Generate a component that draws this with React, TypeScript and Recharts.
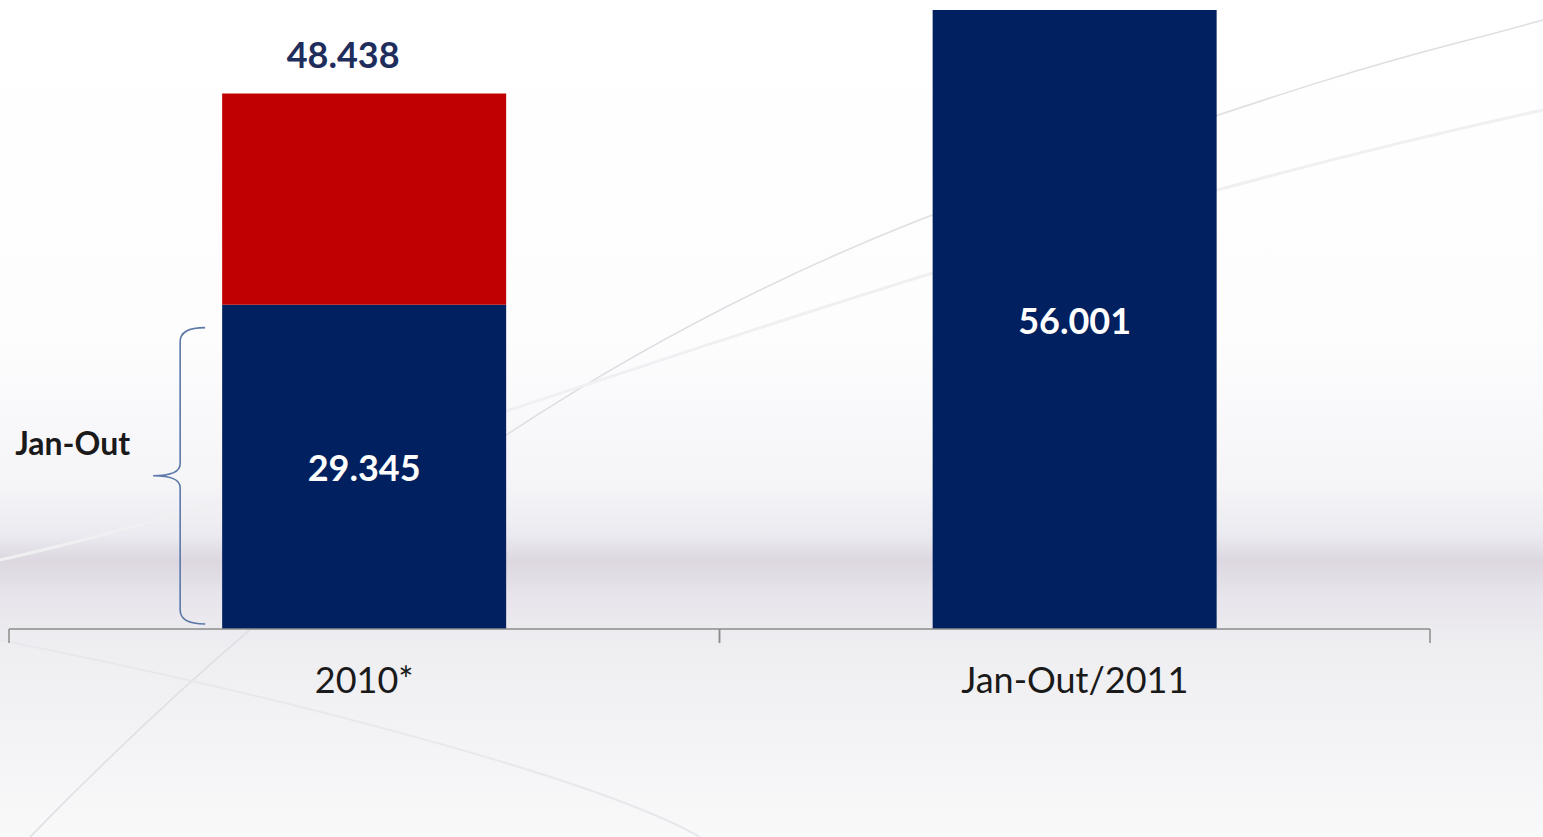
import React from 'react';
import { BarChart, Bar, XAxis, YAxis, LabelList } from 'recharts';

const categories = ['2010*', 'Jan-Out/2011'];
const janOutValues = [29345, 56001];
const novDecValues: (number | null)[] = [19093, null];
const braceLabel = 'Jan-Out';

const NAVY = '#002060';
const RED = '#C00000';
const FONT = 'Lato, "Open Sans", sans-serif';

const data = categories.map((c, i) => ({
  name: c,
  janOut: janOutValues[i],
  novDec: novDecValues[i],
  total: janOutValues[i] + (novDecValues[i] ?? 0),
}));

const fmt = (v: number) => String(Math.round(v)).replace(/\B(?=(\d{3})+(?!\d))/g, '.');

const BlueLabel = (props: any) => {
  const { x, y, width, height, value, index } = props;
  if (value == null) return null;
  const cx = x + width / 2;
  const cy = y + height / 2;
  const parts: React.ReactNode[] = [
    <text key="v" x={cx} y={cy} textAnchor="middle" dominantBaseline="central" fill="#ffffff" fontWeight="bold" fontSize={36} fontFamily={FONT}>
      {fmt(value)}
    </text>,
  ];
  if (index === 0) {
    const top = y + 23;
    const bottom = y + height - 5;
    const mid = (top + bottom) / 2;
    const xr = x - 17;
    const xv = x - 42;
    const xl = x - 69;
    const d = `M ${xr} ${top} Q ${xv} ${top} ${xv} ${top + 14} L ${xv} ${mid - 12} Q ${xv} ${mid} ${xl} ${mid} Q ${xv} ${mid} ${xv} ${mid + 12} L ${xv} ${bottom - 14} Q ${xv} ${bottom} ${xr} ${bottom}`;
    parts.push(<path key="b" d={d} fill="none" stroke="#5b78a8" strokeWidth={1.6} />);
    parts.push(
      <text key="t" x={x - 92} y={mid - 33} textAnchor="end" dominantBaseline="central" fill="#1a1a1a" fontWeight="bold" fontSize={32} fontFamily={FONT}>
        {braceLabel}
      </text>
    );
  }
  return <g>{parts}</g>;
};

const TotalLabel = (props: any) => {
  const { x, y, width, value, index } = props;
  if (value == null || value === 0) return null;
  const total = data[index]?.total ?? value;
  return (
    <text x={x + width / 2 - 21} y={y - 40} textAnchor="middle" dominantBaseline="central" fill="#1f2d5c" fontWeight="bold" fontSize={36} fontFamily={FONT}>
      {fmt(total)}
    </text>
  );
};

const CatTick = (props: any) => {
  const { x, y, payload } = props;
  const off = payload?.offset ?? 355;
  return (
    <g>
      <line x1={x - off} y1={y} x2={x - off} y2={y + 14} stroke="#8c8c8c" strokeWidth={1.5} />
      <line x1={x + off} y1={y} x2={x + off} y2={y + 14} stroke="#8c8c8c" strokeWidth={1.5} />
      <text x={x} y={y + 50} textAnchor="middle" dominantBaseline="central" fill="#1a1a1a" fontSize={36} fontFamily={FONT}>
        {payload.value}
      </text>
    </g>
  );
};

export default function App() {
  return (
    <div
      style={{
        position: 'absolute',
        left: 0,
        top: 0,
        width: 1543,
        height: 837,
        overflow: 'hidden',
        background:
          'linear-gradient(180deg, #ffffff 0%, #fdfdfe 40%, #f5f5f8 58%, #ebeaf0 64%, #dcd7e0 67%, #e7e4eb 71%, #efeff2 78%, #f4f4f6 90%, #f9f9fa 100%)',
      }}
    >
      <svg width={1543} height={837} style={{ position: 'absolute', left: 0, top: 0 }}>
        <path d="M 30 837 C 300 560, 600 330, 1000 190 S 1400 60, 1543 20" fill="none" stroke="#dedee3" strokeWidth={1.5} />
        <path d="M 0 560 C 400 470, 900 250, 1543 110" fill="none" stroke="#f0f0f3" strokeWidth={3} />
        <path d="M 0 640 C 300 700, 600 780, 700 837" fill="none" stroke="#e8e8ec" strokeWidth={2} />
      </svg>
      <div style={{ position: 'absolute', left: 0, top: 0 }}>
        <BarChart
          width={1543}
          height={837}
          data={data}
          margin={{ top: 10, right: 113, left: 9, bottom: 148 }}
          barCategoryGap="30%"
        >
          <YAxis hide domain={[0, 'dataMax']} />
          <XAxis
            dataKey="name"
            height={60}
            axisLine={{ stroke: '#8c8c8c', strokeWidth: 1.5 }}
            tickLine={false}
            tickSize={0}
            tickMargin={0}
            interval={0}
            tick={<CatTick />}
          />
          <Bar dataKey="janOut" stackId="a" fill={NAVY} isAnimationActive={false}>
            <LabelList dataKey="janOut" content={<BlueLabel />} />
          </Bar>
          <Bar dataKey="novDec" stackId="a" fill={RED} isAnimationActive={false}>
            <LabelList dataKey="novDec" content={<TotalLabel />} />
          </Bar>
        </BarChart>
      </div>
    </div>
  );
}
